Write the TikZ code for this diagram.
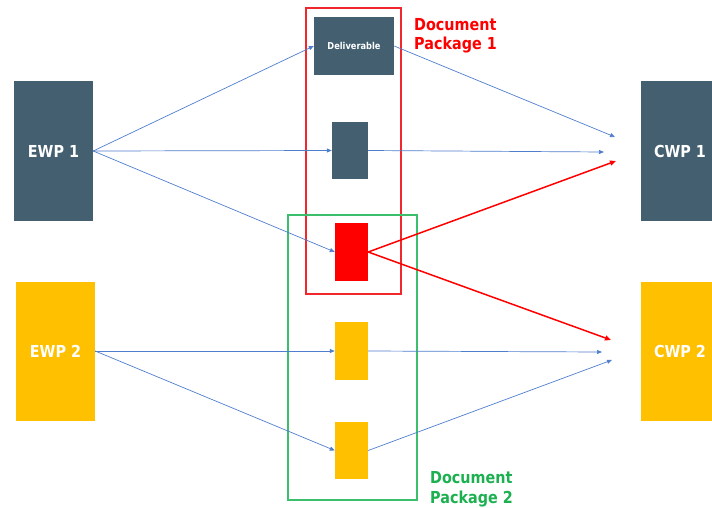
\documentclass[tikz,border=0pt]{standalone}
\usepackage{fontspec}
\usepackage{graphicx}
\setmainfont{DejaVu Sans}
\usetikzlibrary{arrows.meta}
\definecolor{slate}{HTML}{435F70}
\definecolor{amber}{HTML}{FFC000}
\definecolor{flow}{HTML}{4F7ECC}
\definecolor{pkgred}{HTML}{F0282C}
\definecolor{pkggreen}{HTML}{3CBF6C}
\definecolor{pkgtext}{HTML}{1DB050}
\newcommand\narrow[1]{\scalebox{0.87}[1]{#1}}
\tikzset{
  wp/.style={draw=none, minimum width=79pt, minimum height=139pt, inner sep=0pt,
    text=white, font=\fontsize{16.5}{19}\selectfont\bfseries},
  darkwp/.style={wp, fill=slate},
  yellowwp/.style={wp, fill=amber},
  doc/.style={draw=none, inner sep=0pt, minimum width=33pt, minimum height=58pt},
  flowline/.style={flow, line width=0.7pt, -{Triangle[length=5pt,width=4pt]}},
  hotline/.style={red, line width=1.5pt, -{Triangle[length=6pt,width=5pt]}},
  pkglabel/.style={inner sep=0pt, align=left, anchor=base west,
    font=\fontsize{16.5}{19.5}\selectfont\bfseries},
}
\begin{document}
\begin{tikzpicture}[x=1pt, y=-1pt]
\useasboundingbox (0,0) rectangle (712,508);

% work packages
\node[darkwp]   (ewp1) at (53.5,151) {\narrow{EWP 1}};
\node[yellowwp] (ewp2) at (55.5,351) {\narrow{EWP 2}};
\node[darkwp]   (cwp1) at (680,151) {\narrow{CWP 1}};
\node[yellowwp] (cwp2) at (680,351) {\narrow{CWP 2}};

% deliverables
\node[doc, fill=slate, minimum width=80pt, text=white,
      font=\fontsize{9.5}{11}\selectfont\bfseries] (dlv) at (354,46) {\narrow{Deliverable}};
\node[doc, fill=slate, minimum width=36pt, minimum height=57pt] (d2) at (350,150.5) {};
\node[doc, fill=red] (shared) at (351.5,252) {};
\node[doc, fill=amber] (y1) at (351.5,351) {};
\node[doc, fill=amber, minimum height=57pt] (y2) at (351.5,450.5) {};

% document package frames
\draw[pkgred, line width=1.1pt] (306,8) rectangle (401,294);
\draw[pkggreen, line width=1.1pt] (288,215) rectangle (417,500);
% base anchor sits on the last line of a two-line label
\node[pkglabel, text=red] (pk1) at (414,50) {\narrow{Document}\\\narrow{Package 1}};
\node[pkglabel, text=pkgtext] (pk2) at (430,503) {\narrow{Document}\\\narrow{Package 2}};

% arrow ends in front of the construction packages
\coordinate (c1a) at (615,137);
\coordinate (c1b) at (604,152);
\coordinate (c1c) at (616,161);
\coordinate (c2a) at (611,340);
\coordinate (c2b) at (602,352);
\coordinate (c2c) at (612,360);

% flows
\draw[flowline] (ewp1.east) -- (dlv.west);
\draw[flowline] (ewp1.east) -- (d2.west);
\draw[flowline] (ewp1.east) -- (shared.west);
\draw[flowline] (ewp2.east) -- (y1.west);
\draw[flowline] (ewp2.east) -- (y2.west);
\draw[flowline] (dlv.east) -- (c1a);
\draw[flowline] (d2.east) -- (c1b);
\draw[flowline] (y1.east) -- (c2b);
\draw[flowline] (y2.east) -- (c2c);
\draw[hotline] (shared.east) -- (c1c);
\draw[hotline] (shared.east) -- (c2a);
\end{tikzpicture}
\end{document}
